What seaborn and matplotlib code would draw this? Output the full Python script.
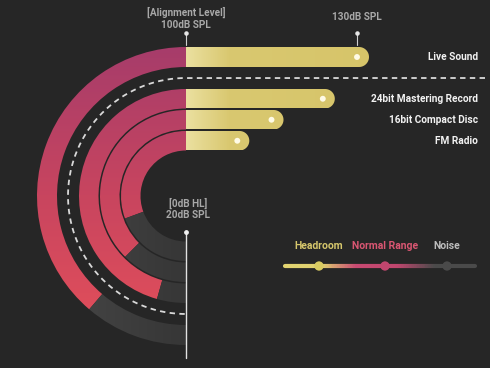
import numpy as np
import matplotlib
matplotlib.use("Agg")
import matplotlib.pyplot as plt
import seaborn as sns
from matplotlib.patches import Wedge, Polygon
from matplotlib.collections import LineCollection
from matplotlib.colors import LinearSegmentedColormap

# data (dB SPL)
sources = ["Live Sound", "24bit Mastering Record", "16bit Compact Disc", "FM Radio"]
peak_db = [130, 124, 115, 109]
noise_db = [38, 27, 40, 51]
ALIGN_DB = 100
FLOOR_DB = 20
legend_labels = ["Headroom", "Normal Range", "Noise"]

# layout (pixel-like units, y down)
BG = "#262626"
CX, CY = 186, 196
PX_PER_DB = 5.7
ring_outer = [149, 107, 86, 65]
ring_width = [20, 19.5, 19.5, 19.5]
DASH_R = 118

YELLOW = LinearSegmentedColormap.from_list("y", [(0, "#ebe0a0"), (0.2, "#d9c870"), (1, "#d6c468")])
PINK = LinearSegmentedColormap.from_list("p", ["#a53c6b", "#c8455f", "#e6505a"])
GRAY = LinearSegmentedColormap.from_list("g", ["#4a4a4a", "#363636"])
LEGEND_CMAP = LinearSegmentedColormap.from_list(
    "l", [(0, "#e2d470"), (0.2, "#e0d070"), (0.38, "#c84a72"), (0.6, "#c0466e"), (0.8, "#4a4a4a"), (1, "#4a4a4a")])


def x_of(db):
    return CX + (db - ALIGN_DB) * PX_PER_DB


def theta_of(db):
    # 0 deg from top going round the left side down to the floor at 180 deg
    phi = (ALIGN_DB - db) / (ALIGN_DB - FLOOR_DB) * 180
    return 270 - phi


def gradient(ax, cmap, extent, patch, vertical=True):
    g = np.linspace(0, 1, 256)
    arr = g.reshape(-1, 1) if vertical else g.reshape(1, -1)
    im = ax.imshow(arr, cmap=cmap, extent=extent, aspect="auto", zorder=2, interpolation="bilinear")
    im.set_clip_path(patch)


def main():
    sns.set_style("dark")
    plt.rcParams["font.family"] = ["Roboto", "DejaVu Sans"]

    fig = plt.figure(figsize=(4.9, 3.68), dpi=100, facecolor=BG)
    ax = fig.add_axes([0, 0, 1, 1])
    ax.set_facecolor(BG)

    for name, peak, noise, r_out, w in zip(sources, peak_db, noise_db, ring_outer, ring_width):
        t_noise = theta_of(noise)
        pink = Wedge((CX, CY), r_out, t_noise, 270, width=w, transform=ax.transData)
        gray = Wedge((CX, CY), r_out, 90, t_noise, width=w, transform=ax.transData)
        gradient(ax, PINK, (25, CX + 1, 350, 40), pink)
        gradient(ax, GRAY, (25, CX + 1, 350, 40), gray, vertical=False)

        # headroom bar with rounded end
        yc = CY - r_out + w / 2
        r = w / 2
        x1 = x_of(peak) + 12
        t = np.radians(np.linspace(-90, 90, 40))
        pts = [(CX, yc - r)] + list(zip(x1 - r + r * np.cos(t), yc + r * np.sin(t))) + [(CX, yc + r)]
        bar = Polygon(pts, closed=True, transform=ax.transData)
        gradient(ax, YELLOW, (CX, 400, yc + r, yc - r), bar, vertical=False)

        sns.scatterplot(x=[x_of(peak)], y=[yc], color="#fffbe6", s=18, edgecolor="none",
                        ax=ax, legend=False, zorder=4)
        ax.text(478, yc, name, color="#f2f2f2", fontsize=7.3, fontweight="bold",
                ha="right", va="center")

    # dashed separator
    th = np.radians(np.linspace(270, 90, 200))
    dx = np.concatenate([[485, CX], CX + DASH_R * np.cos(th)])
    dy = np.concatenate([[CY - DASH_R, CY - DASH_R], CY + DASH_R * np.sin(th)])
    ax.plot(dx, dy, color="#d9d9d9", lw=1.3, dashes=(3, 2.4), zorder=3)

    # reference markers
    for db, lines, ty in [(ALIGN_DB, "[Alignment Level]\n100dB SPL", 18.5), (130, "130dB SPL", 17)]:
        xx = x_of(db)
        ax.plot([xx, xx], [33, 45], color="#cfcfcf", lw=0.8, zorder=3)
        ax.scatter([xx], [33], color="#e6e6e6", s=5, zorder=4)
        ax.text(xx, ty, lines, color="#a8a8a8", fontsize=7.2, fontweight="bold",
                ha="center", va="center", linespacing=1.2)

    ax.plot([CX, CX], [232, 358], color="#e2e2e2", lw=1, zorder=3)
    ax.scatter([CX], [232], color="#f0f0f0", s=6, zorder=4)
    ax.text(CX + 2, 209, "[0dB HL]\n20dB SPL", color="#a8a8a8", fontsize=7.2, fontweight="bold",
            ha="center", va="center", linespacing=1.2)

    # legend
    lx = np.linspace(285, 475, 120)
    segs = [[(lx[i], 266), (lx[i + 1], 266)] for i in range(len(lx) - 1)]
    lc = LineCollection(segs, cmap=LEGEND_CMAP, linewidths=3, capstyle="round", zorder=3)
    lc.set_array(np.linspace(0, 1, len(segs)))
    ax.add_collection(lc)
    legend_x = [319, 385, 447]
    legend_colors = ["#d9cb62", "#c0466e", "#4a4a4a"]
    text_colors = ["#d6c76c", "#d95672", "#bdbdbd"]
    sns.scatterplot(x=legend_x, y=[266] * 3, hue=legend_labels, palette=legend_colors, s=45,
                    edgecolor="none", ax=ax, legend=False, zorder=4)
    for lab, x, c in zip(legend_labels, legend_x, text_colors):
        ax.text(x, 246, lab, color=c, fontsize=7.5, fontweight="bold", ha="center", va="center")

    ax.set_xlim(0, 490)
    ax.set_ylim(368, 0)
    ax.axis("off")
    fig.savefig("out.png", dpi=100, facecolor=BG)


if __name__ == "__main__":
    main()
